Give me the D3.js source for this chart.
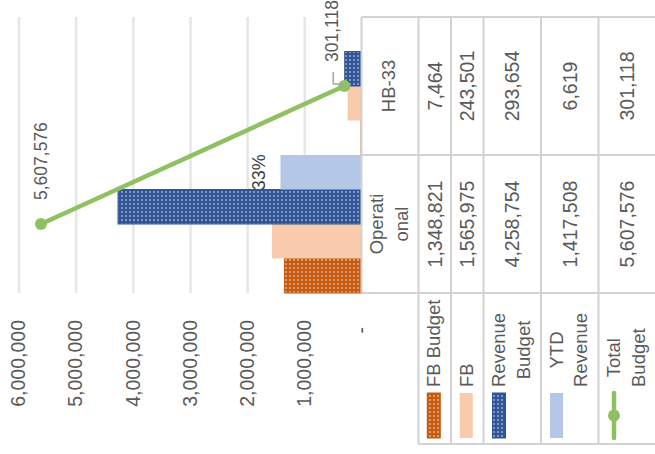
<!DOCTYPE html>
<html>
<head>
<meta charset="utf-8">
<script src="https://cdn.jsdelivr.net/npm/d3@7"></script>
<style>
  body { margin: 0; background: #fff; }
  svg { display: block; font-family: "Liberation Sans", Arial, sans-serif; }
</style>
</head>
<body>
<div id="chart"></div>
<script>
// values
var categories = ["Operational", "HB-33"];
var categoryLines = [["Operati", "onal"], ["HB-33"]];
var seriesNames = ["FB Budget", "FB", "Revenue Budget", "YTD Revenue", "Total Budget"];
var seriesLines = [["FB Budget"], ["FB"], ["Revenue", "Budget"], ["YTD", "Revenue"], ["Total", "Budget"]];
var fbBudget = [1348821, 7464];
var fb = [1565975, 243501];
var revenueBudget = [4258754, 293654];
var ytdRevenue = [1417508, 6619];
var totalBudget = [5607576, 301118];
var ytdPctLabels = ["33%", ""];
var tickValues = [0, 1000000, 2000000, 3000000, 4000000, 5000000, 6000000];

var W = 655, H = 454;
var textColor = "#595959", borderColor = "#d2d2d2";
var colors = {
    "FB Budget": "#c55a11",
    "FB": "#f8cbad",
    "Revenue Budget": "#2f5597",
    "YTD Revenue": "#b4c7e7",
    "Total Budget": "#8fc163"
};
var patterned = {"FB Budget": true, "Revenue Budget": true};
var seriesValues = [fbBudget, fb, revenueBudget, ytdRevenue, totalBudget];
var barNames = seriesNames.slice(0, 4);

var svg = d3.select("#chart").append("svg")
    .attr("width", W)
    .attr("height", H);

// dotted fills
var defs = svg.append("defs");
function dotPattern(id, color) {
    var p = defs.append("pattern")
        .attr("id", id)
        .attr("patternUnits", "userSpaceOnUse")
        .attr("width", 4)
        .attr("height", 4);
    p.append("rect").attr("width", 4).attr("height", 4).attr("fill", color);
    p.append("rect").attr("x", 1.2).attr("y", 1.2).attr("width", 1.6).attr("height", 1.6)
        .attr("fill", "#fff").attr("opacity", 0.6);
}
dotPattern("pat-fbb", colors["FB Budget"]);
dotPattern("pat-rb", colors["Revenue Budget"]);
function fillOf(name) {
    if (name === "FB Budget") return "url(#pat-fbb)";
    if (name === "Revenue Budget") return "url(#pat-rb)";
    return colors[name];
}

// chart is laid out upright (454 wide, 655 tall) and turned a quarter to the left
var g = svg.append("g")
    .attr("transform", "translate(0," + H + ") rotate(-90)");

var plotLeft = 161, plotRight = 437, tableLeft = 10;

var x = d3.scaleBand()
    .domain(categories)
    .range([plotLeft, plotRight])
    .padding(0);
var xs = d3.scaleBand()
    .domain(barNames)
    .range([0, x.bandwidth()])
    .padding(0);
var y = d3.scaleLinear()
    .domain([0, 6000000])
    .range([361.5, 18.5]);
var zeroY = y(0);

// value axis + gridlines
var axis = g.append("g")
    .attr("transform", "translate(" + plotLeft + ",0)")
    .call(d3.axisLeft(y)
        .tickValues(tickValues)
        .tickSize(-(plotRight - plotLeft))
        .tickPadding(27)
        .tickFormat(function (d) { return d === 0 ? "-" : d3.format(",")(d); }));
axis.attr("font-size", null).attr("font-family", null);
axis.select(".domain").remove();
axis.selectAll(".tick line")
    .attr("stroke", "#e6e6e6")
    .attr("stroke-width", 2.5);
axis.selectAll(".tick").filter(function (d) { return d === 0; }).select("line").remove();
axis.selectAll(".tick text")
    .attr("fill", textColor)
    .attr("dx", function (d) { return d === 0 ? -7 : 0; })
    .style("font-size", "19.5px");

// bars
var barData = [];
categories.forEach(function (c, i) {
    barNames.forEach(function (n, j) {
        barData.push({cat: c, name: n, value: seriesValues[j][i]});
    });
});
g.selectAll("rect.bar")
    .data(barData)
    .enter()
    .append("rect")
    .attr("class", "bar")
    .attr("x", function (d) { return x(d.cat) + xs(d.name); })
    .attr("width", xs.bandwidth())
    .attr("y", function (d) { return y(d.value); })
    .attr("height", function (d) { return zeroY - y(d.value); })
    .attr("fill", function (d) { return fillOf(d.name); })
    .attr("stroke", function (d) { return patterned[d.name] ? colors[d.name] : "none"; })
    .attr("stroke-width", 1);

// YTD share label
g.selectAll("text.pct")
    .data(categories)
    .enter()
    .append("text")
    .attr("class", "pct")
    .attr("x", function (d) { return x(d) + xs("YTD Revenue") + xs.bandwidth() / 2; })
    .attr("y", function (d, i) { return y(ytdRevenue[i]) - 15; })
    .attr("text-anchor", "middle")
    .attr("fill", "#404040")
    .style("font-size", "18px")
    .text(function (d, i) { return ytdPctLabels[i]; });

// total budget line
var cx = function (d, i) { return x(categories[i]) + x.bandwidth() / 2; };
var line = d3.line()
    .x(cx)
    .y(function (d) { return y(d); });
g.append("path")
    .datum(totalBudget)
    .attr("d", line)
    .attr("fill", "none")
    .attr("stroke", colors["Total Budget"])
    .attr("stroke-width", 4.5)
    .attr("stroke-linecap", "round");
g.selectAll("circle.pt")
    .data(totalBudget)
    .enter()
    .append("circle")
    .attr("class", "pt")
    .attr("cx", cx)
    .attr("cy", function (d) { return y(d); })
    .attr("r", 6)
    .attr("fill", colors["Total Budget"]);

// the HB-33 label sits a bit higher and gets a leader
g.append("path")
    .attr("d", function () {
        var px = cx(null, 1), py = y(totalBudget[1]);
        return "M" + (px + 2) + "," + (py - 1) + "V" + (py - 11) + "H" + (px + 14);
    })
    .attr("fill", "none")
    .attr("stroke", "#a6a6a6")
    .attr("stroke-width", 1.5);
g.selectAll("text.total")
    .data(totalBudget)
    .enter()
    .append("text")
    .attr("class", "total")
    .attr("x", function (d, i) { return cx(d, i) + 24; })
    .attr("y", function (d, i) { return y(d) + (i === 1 ? -12 : 0); })
    .attr("dy", "0.35em")
    .attr("fill", textColor)
    .style("font-size", "17.5px")
    .text(d3.format(","));

// data table
var lineGap = 24.5;
var headerTop = zeroY, headerBottom = headerTop + 57;
var rows = [];
var rowTop = headerBottom;
seriesNames.forEach(function (n, j) {
    var h = seriesLines[j].length > 1 ? 57.5 : 32.5;
    rows.push({name: n, lines: seriesLines[j], values: seriesValues[j], top: rowTop, bottom: rowTop + h});
    rowTop += h;
});
var tableBottom = rowTop;

var borders = g.append("g")
    .attr("stroke", borderColor)
    .attr("stroke-width", 2);
borders.append("line")
    .attr("x1", plotLeft).attr("x2", plotRight)
    .attr("y1", headerTop).attr("y2", headerTop);
rows.forEach(function (r) {
    borders.append("line")
        .attr("x1", tableLeft).attr("x2", plotRight)
        .attr("y1", r.top).attr("y2", r.top);
});
borders.append("line")
    .attr("x1", tableLeft).attr("x2", tableLeft)
    .attr("y1", headerBottom).attr("y2", tableBottom);
[plotLeft].concat(categories.map(function (c) { return x(c) + x.bandwidth(); }))
    .forEach(function (u) {
        borders.append("line")
            .attr("x1", u).attr("x2", u)
            .attr("y1", headerTop).attr("y2", tableBottom);
    });

function lineCenters(n, t, b) {
    var c = (t + b) / 2 - 1;
    return d3.range(n).map(function (i) { return c + (i - (n - 1) / 2) * lineGap; });
}

// category headers
categories.forEach(function (c, i) {
    var ys = lineCenters(categoryLines[i].length, headerTop, headerBottom);
    categoryLines[i].forEach(function (t, k) {
        g.append("text")
            .attr("x", x(c) + x.bandwidth() / 2)
            .attr("y", ys[k])
            .attr("dy", "0.35em")
            .attr("text-anchor", "middle")
            .attr("fill", textColor)
            .style("font-size", "18.5px")
            .text(t);
    });
});

// rows: legend key, name, values
var keyLeft = 16, keyLen = 45, textLeft = 67;
rows.forEach(function (r) {
    var ys = lineCenters(r.lines.length, r.top, r.bottom);
    var ky = ys[0];
    if (r.name === "Total Budget") {
        g.append("line")
            .attr("x1", keyLeft).attr("x2", keyLeft + keyLen)
            .attr("y1", ky).attr("y2", ky)
            .attr("stroke", colors[r.name])
            .attr("stroke-width", 4.5)
            .attr("stroke-linecap", "round");
        g.append("circle")
            .attr("cx", keyLeft + keyLen / 2).attr("cy", ky).attr("r", 6)
            .attr("fill", colors[r.name]);
    } else {
        g.append("rect")
            .attr("x", keyLeft).attr("y", ky - 6.5)
            .attr("width", keyLen).attr("height", 13)
            .attr("fill", fillOf(r.name))
            .attr("stroke", patterned[r.name] ? colors[r.name] : "none");
    }
    var labels = r.lines.map(function (t, k) {
        return g.append("text")
            .attr("y", ys[k])
            .attr("dy", "0.35em")
            .attr("text-anchor", "middle")
            .attr("fill", textColor)
            .style("font-size", "18.5px")
            .text(t);
    });
    var blockW = d3.max(labels, function (t) { return t.node().getComputedTextLength(); });
    labels.forEach(function (t) { t.attr("x", textLeft + blockW / 2); });

    categories.forEach(function (c, i) {
        g.append("text")
            .attr("x", x(c) + x.bandwidth() / 2)
            .attr("y", (r.top + r.bottom) / 2)
            .attr("dy", "0.35em")
            .attr("text-anchor", "middle")
            .attr("fill", textColor)
            .style("font-size", "19.5px")
            .text(d3.format(",")(r.values[i]));
    });
});
</script>
</body>
</html>
